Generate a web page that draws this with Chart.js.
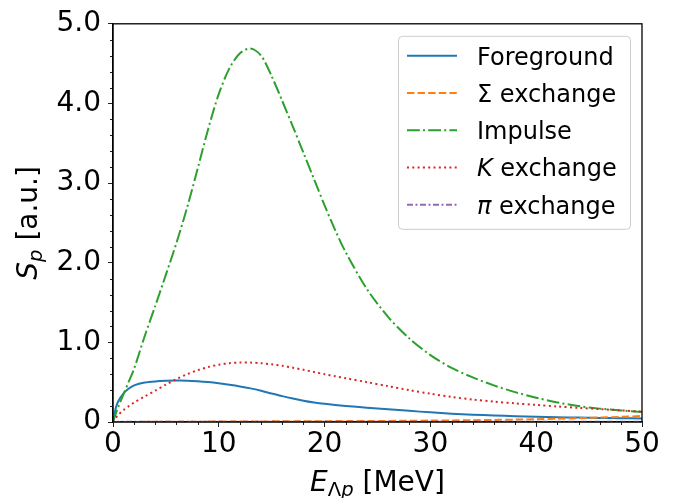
<!DOCTYPE html>
<html><head><meta charset="utf-8">
<script src="https://cdn.jsdelivr.net/npm/chart.js@4"></script>
<style>html,body{margin:0;padding:0;background:#fff;overflow:hidden}</style>
</head><body>
<canvas id="c" width="676" height="498"></canvas>
<script>
// ---- data ----
const energies   = [0, 0.25, 0.5, 1, 1.5, 2, 3, 4, 5, 6, 7, 8, 9, 10, 11, 12, 13, 14, 15, 16, 17, 18, 19, 20, 21, 22, 24, 26, 28, 30, 32, 34, 36, 38, 40, 42, 44, 46, 48, 50];
const foreground = [0, 0.17, 0.26, 0.36, 0.42, 0.46, 0.495, 0.51, 0.517, 0.52, 0.519, 0.512, 0.501, 0.486, 0.468, 0.447, 0.422, 0.392, 0.358, 0.325, 0.295, 0.268, 0.246, 0.228, 0.214, 0.202, 0.18, 0.16, 0.14, 0.121, 0.105, 0.092, 0.082, 0.073, 0.066, 0.06, 0.055, 0.051, 0.048, 0.045];
const sigmaExch  = [0, 0, 0, 0.001, 0.001, 0.001, 0.002, 0.002, 0.003, 0.003, 0.004, 0.004, 0.005, 0.005, 0.006, 0.006, 0.007, 0.007, 0.008, 0.008, 0.009, 0.009, 0.010, 0.010, 0.011, 0.011, 0.012, 0.014, 0.016, 0.018, 0.020, 0.023, 0.026, 0.030, 0.035, 0.041, 0.048, 0.056, 0.065, 0.075];
const impulse    = [0, 0.10, 0.19, 0.35, 0.51, 0.67, 1.08, 1.46, 1.85, 2.25, 2.69, 3.18, 3.68, 4.12, 4.44, 4.63, 4.69, 4.60, 4.34, 4.03, 3.71, 3.38, 3.05, 2.72, 2.41, 2.13, 1.67, 1.32, 1.05, 0.84, 0.68, 0.56, 0.46, 0.375, 0.305, 0.245, 0.2, 0.168, 0.145, 0.125];
const kaonExch   = [0, 0.05, 0.09, 0.15, 0.20, 0.245, 0.32, 0.395, 0.47, 0.54, 0.60, 0.65, 0.69, 0.72, 0.738, 0.746, 0.746, 0.738, 0.724, 0.705, 0.682, 0.656, 0.628, 0.60, 0.574, 0.55, 0.50, 0.45, 0.40, 0.355, 0.315, 0.282, 0.256, 0.234, 0.214, 0.195, 0.178, 0.162, 0.146, 0.13];
const pionExch   = [0, 0.001, 0.002, 0.002, 0.003, 0.003, 0.003, 0.004, 0.004, 0.004, 0.004, 0.004, 0.004, 0.004, 0.004, 0.004, 0.004, 0.004, 0.004, 0.004, 0.004, 0.004, 0.004, 0.004, 0.004, 0.004, 0.004, 0.004, 0.004, 0.004, 0.004, 0.004, 0.004, 0.004, 0.004, 0.004, 0.004, 0.004, 0.004, 0.004];
const seriesLabels = ['Foreground', 'Σ exchange', 'Impulse', 'K exchange', 'π exchange'];
const italicPrefix = ['', '', '', 'K', 'π'];
const xTickValues = [0, 10, 20, 30, 40, 50];
const yTickValues = [0, 1, 2, 3, 4, 5];
const xMinorStep = 2;
const yMinorStep = 0.2;

const seriesValues = [foreground, sigmaExch, impulse, kaonExch, pionExch];
const colors = ['#1f77b4', '#ff7f0e', '#2ca02c', '#d62728', '#9467bd'];
const dashes = [[], [7.4, 3.2], [12.8, 3.2, 2, 3.2], [2, 3.3], [6, 2.5, 2, 2.5]];
const FONT = "'DejaVu Sans', sans-serif";

const datasets = seriesValues.map((vals, i) => ({
  label: seriesLabels[i],
  data: energies.map((e, k) => ({x: e, y: vals[k]})),
  borderColor: colors[i],
  backgroundColor: colors[i],
  borderWidth: 2,
  borderDash: dashes[i],
  borderCapStyle: 'butt',
  pointRadius: 0,
  tension: 0.3,
  fill: false,
  order: seriesValues.length - i
}));

function drawSegments(ctx, segs, x, y) {
  let w = 0;
  segs.forEach(s => { ctx.font = (s.italic ? 'italic ' : '') + s.size + 'px ' + FONT; s.w = ctx.measureText(s.t).width; w += s.w; });
  let cx = x - w / 2;
  segs.forEach(s => { ctx.font = (s.italic ? 'italic ' : '') + s.size + 'px ' + FONT; ctx.fillText(s.t, cx, y + (s.dy || 0)); cx += s.w; });
}

const decor = {
  id: 'decor',
  afterDraw(chart) {
    const ctx = chart.ctx, a = chart.chartArea;
    const xs = chart.scales.x, ys = chart.scales.y;
    ctx.save();
    // minor ticks
    ctx.strokeStyle = '#222'; ctx.lineWidth = 1;
    ctx.beginPath();
    for (let k = 0; k <= 25; k++) {
      const v = k * xMinorStep;
      if (v % 10 === 0) continue;
      const px = Math.round(xs.getPixelForValue(v)) + 0.5;
      ctx.moveTo(px, a.bottom); ctx.lineTo(px, a.bottom + 3);
    }
    for (let k = 0; k <= 25; k++) {
      if (k % 5 === 0) continue;
      const py = Math.round(ys.getPixelForValue(k * yMinorStep)) + 0.5;
      ctx.moveTo(a.left, py); ctx.lineTo(a.left - 3, py);
    }
    ctx.stroke();
    // frame
    ctx.strokeStyle = '#000'; ctx.lineWidth = 1.3;
    ctx.strokeRect(a.left, a.top, a.right - a.left, a.bottom - a.top);
    // axis titles
    ctx.fillStyle = '#000'; ctx.textBaseline = 'alphabetic'; ctx.textAlign = 'left';
    drawSegments(ctx, [
      {t: 'E', size: 28, italic: true},
      {t: 'Λ', size: 19.6, italic: false, dy: 5},
      {t: 'p', size: 19.6, italic: true, dy: 5},
      {t: ' [MeV]', size: 28, italic: false}
    ], (a.left + a.right) / 2, 491);
    ctx.save();
    ctx.translate(37, (a.top + a.bottom) / 2);
    ctx.rotate(-Math.PI / 2);
    drawSegments(ctx, [
      {t: 'S', size: 28, italic: true},
      {t: 'p', size: 19.6, italic: true, dy: 5},
      {t: ' [a.u.]', size: 28, italic: false}
    ], 0, 0);
    ctx.restore();
    // legend
    const bw = 232, bh = 193;
    const bx = a.right - 12 - bw, by = a.top + 12;
    ctx.beginPath();
    if (ctx.roundRect) ctx.roundRect(bx + 0.5, by + 0.5, bw, bh, 4); else ctx.rect(bx + 0.5, by + 0.5, bw, bh);
    ctx.fillStyle = 'rgba(255,255,255,0.8)'; ctx.fill();
    ctx.strokeStyle = '#cccccc'; ctx.lineWidth = 1; ctx.stroke();
    chart.data.datasets.forEach((ds, i) => {
      const cy = by + 20 + i * 37.25;
      ctx.save();
      ctx.strokeStyle = ds.borderColor; ctx.lineWidth = 2; ctx.lineCap = 'butt';
      ctx.setLineDash(ds.borderDash || []);
      ctx.beginPath(); ctx.moveTo(bx + 9, cy); ctx.lineTo(bx + 59, cy); ctx.stroke();
      ctx.restore();
      ctx.fillStyle = '#000';
      let tx = bx + 79;
      const pre = italicPrefix[i];
      let rest = ds.label;
      if (pre && rest.startsWith(pre)) {
        ctx.font = 'italic 24px ' + FONT;
        ctx.fillText(pre, tx, cy + 8.7);
        tx += ctx.measureText(pre).width;
        rest = rest.slice(pre.length);
      }
      ctx.font = '24px ' + FONT;
      ctx.fillText(rest, tx, cy + 8.7);
    });
    ctx.restore();
  }
};

new Chart(document.getElementById('c'), {
  type: 'line',
  data: {datasets},
  options: {
    responsive: false,
    animation: false,
    devicePixelRatio: 1,
    layout: {padding: {left: 0, right: 34, top: 20, bottom: 0}},
    plugins: {legend: {display: false}, tooltip: {enabled: false}},
    scales: {
      x: {
        type: 'linear', min: 0, max: 50,
        afterBuildTicks: s => { s.ticks = xTickValues.map(v => ({value: v})); },
        afterFit: s => { s.height = 76; },
        grid: {drawOnChartArea: false, tickLength: 5, tickColor: '#222', tickWidth: 1},
        border: {display: true, color: '#000', width: 1.3},
        ticks: {font: {family: FONT, size: 28}, color: '#000', padding: 1, maxRotation: 0, autoSkip: false,
          callback: v => String(v)}
      },
      y: {
        type: 'linear', min: 0, max: 5,
        afterBuildTicks: s => { s.ticks = yTickValues.map(v => ({value: v})); },
        afterFit: s => { s.width = 113; },
        grid: {drawOnChartArea: false, tickLength: 5, tickColor: '#222', tickWidth: 1},
        border: {display: true, color: '#000', width: 1.3},
        ticks: {font: {family: FONT, size: 28}, color: '#000', padding: 7, autoSkip: false,
          callback: v => v === 0 ? '0' : Number(v).toFixed(1)}
      }
    }
  },
  plugins: [decor]
});
</script>
</body></html>
